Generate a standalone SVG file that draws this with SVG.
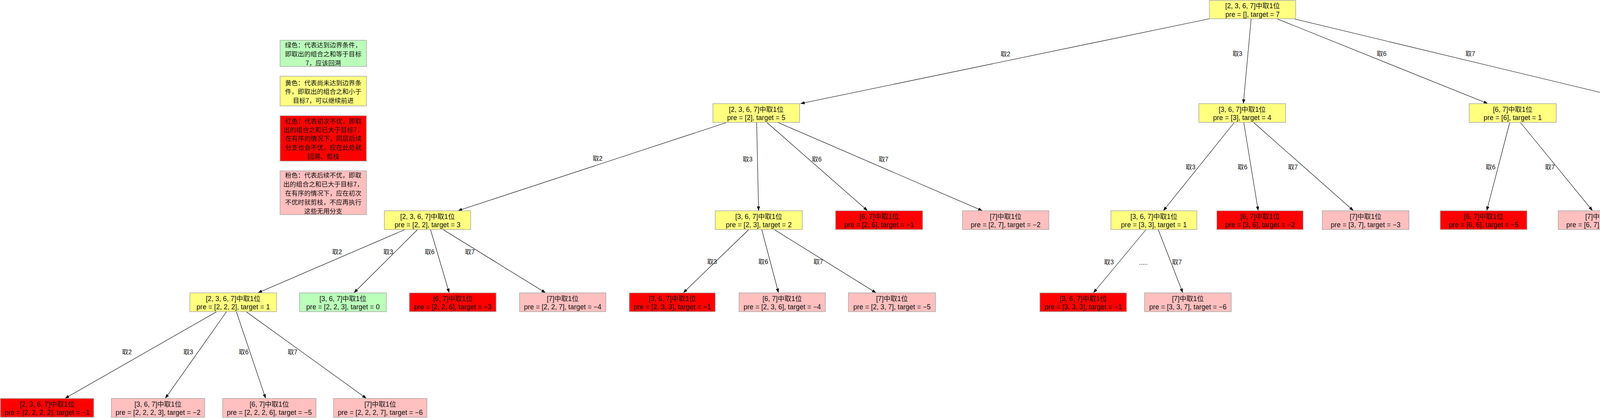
<svg xmlns="http://www.w3.org/2000/svg" width="4434" height="1069" viewBox="0 0 4434 1069">
<style>
.bx{stroke:#a9a9a9;stroke-width:1.5}
.y{fill:#ffff80}.g{fill:#bbffbb}.r{fill:#ff0000}.p{fill:#ffbfbf}
.t{font-family:"Liberation Sans","Noto Sans CJK SC",sans-serif;font-size:17.5px;text-anchor:middle;fill:#111}
.lb{font-family:"Liberation Sans","Noto Sans CJK SC",sans-serif;font-size:16px;text-anchor:middle;fill:#111}
.lg{font-family:"Noto Sans CJK SC",sans-serif;font-size:16.3px;text-anchor:middle;fill:#111}
.e{stroke:#000;stroke-width:1.1;fill:none;marker-end:url(#ah)}
</style>
<defs>
<marker id="ah" markerUnits="userSpaceOnUse" markerWidth="12" markerHeight="10" refX="11" refY="4" orient="auto">
<path d="M0,0 L11,4 L0,8 z" fill="#000"/>
</marker>
</defs>
<rect width="4434" height="1069" fill="#fff"/>

<g id="legend">
<g id="legend-green"><rect class="bx g" x="717" y="103" width="221" height="67"/>
<text class="lg" x="827.5" y="121">绿色：代表达到边界条件，</text>
<text class="lg" x="827.5" y="144">即取出的组合之和等于目标</text>
<text class="lg" x="827.5" y="167">7，应该回溯</text></g>
<g id="legend-yellow"><rect class="bx y" x="717" y="195" width="221" height="76"/>
<text class="lg" x="827.5" y="218">黄色：代表尚未达到边界条</text>
<text class="lg" x="827.5" y="240">件，即取出的组合之和小于</text>
<text class="lg" x="827.5" y="263">目标7，可以继续前进</text></g>
<g id="legend-red"><rect class="bx r" x="717" y="296" width="221" height="116"/>
<text class="lg" x="827.5" y="316">红色：代表初次不优，即取</text>
<text class="lg" x="827.5" y="338">出的组合之和已大于目标7，</text>
<text class="lg" x="827.5" y="360">在有序的情况下，同层后续</text>
<text class="lg" x="827.5" y="383">分支也会不优，应在此处就</text>
<text class="lg" x="827.5" y="406">回溯、剪枝</text></g>
<g id="legend-pink"><rect class="bx p" x="717" y="437" width="221" height="112"/>
<text class="lg" x="827.5" y="454">粉色：代表后续不优，即取</text>
<text class="lg" x="827.5" y="477">出的组合之和已大于目标7，</text>
<text class="lg" x="827.5" y="500">在有序的情况下，应在初次</text>
<text class="lg" x="827.5" y="523">不优时就剪枝，不应再执行</text>
<text class="lg" x="827.5" y="546">这些无用分支</text></g>
</g>

<g id="connectors">
<line class="e" x1="3096" y1="48" x2="2049" y2="265"/>
<line class="e" x1="3203" y1="48" x2="3183" y2="265"/>
<line class="e" x1="3269" y1="48" x2="3809" y2="265"/>
<line class="e" x1="3312" y1="48" x2="4216" y2="265"/>
<line class="e" x1="1861" y1="313" x2="1172" y2="539"/>
<line class="e" x1="1937" y1="313" x2="1942" y2="539"/>
<line class="e" x1="1963" y1="313" x2="2221" y2="539"/>
<line class="e" x1="1991" y1="313" x2="2515" y2="539"/>
<line class="e" x1="3160" y1="313" x2="2978" y2="539"/>
<line class="e" x1="3184" y1="313" x2="3221" y2="539"/>
<line class="e" x1="3209" y1="313" x2="3465" y2="539"/>
<line class="e" x1="3865" y1="313" x2="3806" y2="539"/>
<line class="e" x1="3892" y1="313" x2="4077" y2="539"/>
<line class="e" x1="1037" y1="587" x2="660" y2="749"/>
<line class="e" x1="1069" y1="587" x2="906" y2="749"/>
<line class="e" x1="1102" y1="587" x2="1150" y2="749"/>
<line class="e" x1="1134" y1="587" x2="1397" y2="749"/>
<line class="e" x1="1917" y1="587" x2="1749" y2="749"/>
<line class="e" x1="1950" y1="587" x2="1993" y2="749"/>
<line class="e" x1="1982" y1="587" x2="2243" y2="749"/>
<line class="e" x1="2934" y1="587" x2="2799" y2="749"/>
<line class="e" x1="2965" y1="587" x2="3028" y2="749"/>
<line class="e" x1="555" y1="797" x2="166" y2="1019"/>
<line class="e" x1="580" y1="797" x2="423" y2="1019"/>
<line class="e" x1="605" y1="797" x2="680" y2="1019"/>
<line class="e" x1="630" y1="797" x2="938" y2="1019"/>
<text class="lb" x="2574" y="144">取2</text>
<text class="lb" x="3168" y="143">取3</text>
<text class="lb" x="3537" y="143">取6</text>
<text class="lb" x="3764" y="143">取7</text>
<text class="lb" x="1530" y="411">取2</text>
<text class="lb" x="1914" y="413">取3</text>
<text class="lb" x="2091" y="413">取6</text>
<text class="lb" x="2262" y="413">取7</text>
<text class="lb" x="3048" y="433">取3</text>
<text class="lb" x="3181" y="433">取6</text>
<text class="lb" x="3310" y="433">取7</text>
<text class="lb" x="3816" y="433">取6</text>
<text class="lb" x="3968" y="433">取7</text>
<text class="lb" x="863" y="650">取2</text>
<text class="lb" x="994" y="650">取3</text>
<text class="lb" x="1100" y="650">取6</text>
<text class="lb" x="1203" y="650">取7</text>
<text class="lb" x="1823" y="675">取3</text>
<text class="lb" x="1954" y="675">取6</text>
<text class="lb" x="2095" y="675">取7</text>
<text class="lb" x="2839" y="676">取3</text>
<text class="lb" x="2927" y="677">.....</text>
<text class="lb" x="3013" y="676">取7</text>
<text class="lb" x="325" y="906">取2</text>
<text class="lb" x="482" y="906">取3</text>
<text class="lb" x="624" y="906">取6</text>
<text class="lb" x="749" y="906">取7</text>
</g>

<g id="n-root"><rect class="bx y" x="3096" y="1" width="221" height="47"/>
<text class="t" x="3206.5" y="21">[2, 3, 6, 7]中取1位</text><text class="t" x="3206.5" y="43">pre = [], target = 7</text></g>

<g id="n-2"><rect class="bx y" x="1825" y="265" width="222" height="48"/>
<text class="t" x="1936" y="285.5">[2, 3, 6, 7]中取1位</text><text class="t" x="1936" y="307">pre = [2], target = 5</text></g>
<g id="n-3"><rect class="bx y" x="3069" y="265" width="222" height="48"/>
<text class="t" x="3180" y="285.5">[3, 6, 7]中取1位</text><text class="t" x="3180" y="307">pre = [3], target = 4</text></g>
<g id="n-6"><rect class="bx y" x="3761" y="265" width="223" height="48"/>
<text class="t" x="3872.5" y="285.5">[6, 7]中取1位</text><text class="t" x="3872.5" y="307">pre = [6], target = 1</text></g>
<g id="n-7"><rect class="bx y" x="4212" y="265" width="221" height="48"/>
<text class="t" x="4322.5" y="285.5">[7]中取1位</text><text class="t" x="4322.5" y="307">pre = [7], target = 0</text></g>

<g id="n-22"><rect class="bx y" x="984" y="539" width="221" height="48"/>
<text class="t" x="1094.5" y="559.5">[2, 3, 6, 7]中取1位</text><text class="t" x="1094.5" y="581">pre = [2, 2], target = 3</text></g>
<g id="n-23"><rect class="bx y" x="1831" y="539" width="223" height="48"/>
<text class="t" x="1942.5" y="559.5">[3, 6, 7]中取1位</text><text class="t" x="1942.5" y="581">pre = [2, 3], target = 2</text></g>
<g id="n-26"><rect class="bx r" x="2139" y="539" width="223" height="48"/>
<text class="t" x="2250.5" y="559.5">[6, 7]中取1位</text><text class="t" x="2250.5" y="581">pre = [2, 6], target = −1</text></g>
<g id="n-27"><rect class="bx p" x="2464" y="539" width="221" height="48"/>
<text class="t" x="2574.5" y="559.5">[7]中取1位</text><text class="t" x="2574.5" y="581">pre = [2, 7], target = −2</text></g>
<g id="n-33"><rect class="bx y" x="2844" y="539" width="220" height="48"/>
<text class="t" x="2954" y="559.5">[3, 6, 7]中取1位</text><text class="t" x="2954" y="581">pre = [3, 3], target = 1</text></g>
<g id="n-36"><rect class="bx r" x="3115" y="539" width="221" height="48"/>
<text class="t" x="3225.5" y="559.5">[6, 7]中取1位</text><text class="t" x="3225.5" y="581">pre = [3, 6], target = −2</text></g>
<g id="n-37"><rect class="bx p" x="3385" y="539" width="222" height="48"/>
<text class="t" x="3496" y="559.5">[7]中取1位</text><text class="t" x="3496" y="581">pre = [3, 7], target = −3</text></g>
<g id="n-66"><rect class="bx r" x="3687" y="539" width="222" height="48"/>
<text class="t" x="3798" y="559.5">[6, 7]中取1位</text><text class="t" x="3798" y="581">pre = [6, 6], target = −5</text></g>
<g id="n-67"><rect class="bx p" x="3989" y="539" width="220" height="48"/>
<text class="t" x="4099" y="559.5">[7]中取1位</text><text class="t" x="4099" y="581">pre = [6, 7], target = −6</text></g>

<g id="n-222"><rect class="bx y" x="486" y="749" width="222" height="48"/>
<text class="t" x="597" y="769.5">[2, 3, 6, 7]中取1位</text><text class="t" x="597" y="791">pre = [2, 2, 2], target = 1</text></g>
<g id="n-223"><rect class="bx g" x="767" y="749" width="222" height="48"/>
<text class="t" x="878" y="769.5">[3, 6, 7]中取1位</text><text class="t" x="878" y="791">pre = [2, 2, 3], target = 0</text></g>
<g id="n-226"><rect class="bx r" x="1048" y="749" width="222" height="48"/>
<text class="t" x="1159" y="769.5">[6, 7]中取1位</text><text class="t" x="1159" y="791">pre = [2, 2, 6], target = −3</text></g>
<g id="n-227"><rect class="bx p" x="1330" y="749" width="221" height="48"/>
<text class="t" x="1440.5" y="769.5">[7]中取1位</text><text class="t" x="1440.5" y="791">pre = [2, 2, 7], target = −4</text></g>
<g id="n-233"><rect class="bx r" x="1611" y="749" width="220" height="48"/>
<text class="t" x="1721" y="769.5">[3, 6, 7]中取1位</text><text class="t" x="1721" y="791">pre = [2, 3, 3], target = −1</text></g>
<g id="n-236"><rect class="bx p" x="1892" y="749" width="221" height="48"/>
<text class="t" x="2002.5" y="769.5">[6, 7]中取1位</text><text class="t" x="2002.5" y="791">pre = [2, 3, 6], target = −4</text></g>
<g id="n-237"><rect class="bx p" x="2172" y="749" width="223" height="48"/>
<text class="t" x="2283.5" y="769.5">[7]中取1位</text><text class="t" x="2283.5" y="791">pre = [2, 3, 7], target = −5</text></g>
<g id="n-333"><rect class="bx r" x="2662" y="749" width="222" height="48"/>
<text class="t" x="2773" y="769.5">[3, 6, 7]中取1位</text><text class="t" x="2773" y="791">pre = [3, 3, 3], target = −1</text></g>
<g id="n-337"><rect class="bx p" x="2930" y="749" width="222" height="48"/>
<text class="t" x="3041" y="769.5">[7]中取1位</text><text class="t" x="3041" y="791">pre = [3, 3, 7], target = −6</text></g>

<g id="n-2222"><rect class="bx r" x="1" y="1019" width="239" height="48"/>
<text class="t" x="120.5" y="1039.5">[2, 3, 6, 7]中取1位</text><text class="t" x="120.5" y="1061">pre = [2, 2, 2, 2], target = −1</text></g>
<g id="n-2223"><rect class="bx p" x="285" y="1019" width="239" height="48"/>
<text class="t" x="404.5" y="1039.5">[3, 6, 7]中取1位</text><text class="t" x="404.5" y="1061">pre = [2, 2, 2, 3], target = −2</text></g>
<g id="n-2226"><rect class="bx p" x="570" y="1019" width="239" height="48"/>
<text class="t" x="689.5" y="1039.5">[6, 7]中取1位</text><text class="t" x="689.5" y="1061">pre = [2, 2, 2, 6], target = −5</text></g>
<g id="n-2227"><rect class="bx p" x="854" y="1019" width="239" height="48"/>
<text class="t" x="973.5" y="1039.5">[7]中取1位</text><text class="t" x="973.5" y="1061">pre = [2, 2, 2, 7], target = −6</text></g>
</svg>
